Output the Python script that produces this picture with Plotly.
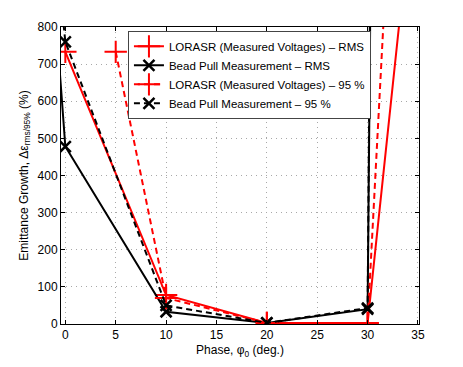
import plotly.graph_objects as go

# phase values (deg.) and emittance growth (%)
lorasr_rms_x = [0, 10, 20, 30, 40]
lorasr_rms_y = [733, 78, 3, 3, 2570]

bead_rms_x = [-10, 0, 10, 20, 30, 40]
bead_rms_y = [4150, 478, 33, 3, 40, 30400]

lorasr_95_x = [5, 10, 20, 30, 40]
lorasr_95_y = [733, 70, 3, 3, 5140]

bead_95_x = [-10, 0, 10, 20, 30, 40]
bead_95_y = [3460, 760, 50, 3, 43, 35000]

x_ticks = [0, 5, 10, 15, 20, 25, 30, 35]
y_ticks = [0, 100, 200, 300, 400, 500, 600, 700, 800]

font_info = dict(family='Liberation Sans, Arial, sans-serif', color='black', size=12)

fig = go.Figure()

fig.add_trace(go.Scatter(
    x=lorasr_rms_x, y=lorasr_rms_y, mode='lines+markers',
    name='LORASR (Measured Voltages) \u2013 RMS',
    line=dict(color='red', width=2),
    marker=dict(symbol='cross-thin-open', size=16, line=dict(color='red', width=2))
))
fig.add_trace(go.Scatter(
    x=bead_rms_x, y=bead_rms_y, mode='lines+markers',
    name='Bead Pull Measurement \u2013 RMS',
    line=dict(color='black', width=2),
    marker=dict(symbol='x-thin-open', size=11, line=dict(color='black', width=2.5))
))
fig.add_trace(go.Scatter(
    x=lorasr_95_x, y=lorasr_95_y, mode='lines+markers',
    name='LORASR (Measured Voltages) \u2013 95 %',
    line=dict(color='red', width=2, dash='6px,4px'),
    marker=dict(symbol='cross-thin-open', size=16, line=dict(color='red', width=2))
))
fig.add_trace(go.Scatter(
    x=bead_95_x, y=bead_95_y, mode='lines+markers',
    name='Bead Pull Measurement \u2013 95 %',
    line=dict(color='black', width=2, dash='6px,4px'),
    marker=dict(symbol='x-thin-open', size=11, line=dict(color='black', width=2.5))
))

axis_common = dict(
    showline=True, linecolor='black', linewidth=1, mirror='ticks',
    ticks='inside', ticklen=4, tickcolor='black',
    showgrid=True, gridcolor='#a8a8a8', griddash='1px,4px', gridwidth=1,
    zeroline=False, tickfont=font_info, title_font=font_info,
)

fig.update_xaxes(
    range=[-0.43, 35.1], tickvals=x_ticks,
    title_text='Phase, \u03c6<sub>0</sub> (deg.)', title_standoff=4,
    **axis_common
)
fig.update_yaxes(
    range=[0, 800], tickvals=y_ticks,
    title_text='Emittance Growth, \u0394\u03b5<sub>rms/95%</sub> (%)', title_standoff=6,
    **axis_common
)

# the page body adds an 8px offset, so the figure is drawn a bit smaller
fig.update_layout(
    width=455, height=359,
    margin=dict(l=53, r=44, t=19, b=41),
    plot_bgcolor='white', paper_bgcolor='white',
    font=font_info,
    showlegend=True,
    legend=dict(
        x=0.187, y=0.987, xanchor='left', yanchor='top',
        bgcolor='white', bordercolor='#444444', borderwidth=1,
        font=dict(family='Liberation Sans, Arial, sans-serif', size=11.5, color='black'),
        tracegroupgap=0, itemwidth=30
    )
)

fig.write_html('out.html')
